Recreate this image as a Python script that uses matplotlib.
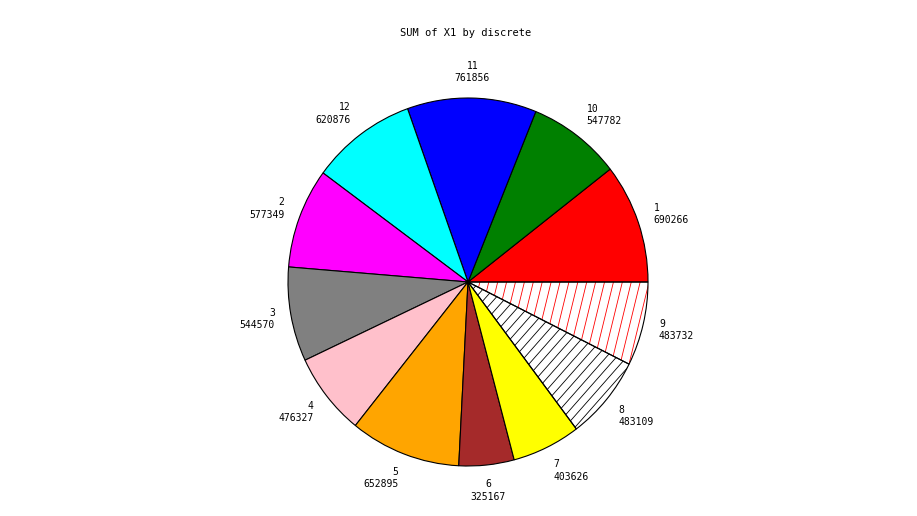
import matplotlib
matplotlib.use("Agg")
import matplotlib.pyplot as plt
import numpy as np

# data (slice order as drawn, counter-clockwise from 3 o'clock)
categories = ['1', '10', '11', '12', '2', '3', '4', '5', '6', '7', '8', '9']
values = [690266, 547782, 761856, 620876, 577349, 544570, 476327,
          652895, 325167, 403626, 483109, 483732]
colors = ['#ff0000', '#008000', '#0000ff', '#00ffff', '#ff00ff', '#808080',
          '#ffc0cb', '#ffa500', '#a52a2a', '#ffff00', 'none', 'none']

font = 'DejaVu Sans Mono'

fig = plt.figure(figsize=(9.17, 5.16), dpi=100)
fig.patch.set_facecolor('white')
ax = fig.add_axes([288 / 917, (516 - 466) / 516, 360 / 917, 368 / 516])
ax.axis('off')

wedges, _ = ax.pie(values, colors=colors, startangle=0, counterclock=True,
                   radius=1, frame=False,
                   wedgeprops=dict(edgecolor='black', linewidth=0.8))
ax.set_xlim(-1, 1)
ax.set_ylim(-1, 1)
ax.set_aspect('auto')

# labels outside each slice
for w, c, v in zip(wedges, categories, values):
    mid = np.radians((w.theta1 + w.theta2) / 2)
    x, y = 1.09 * np.cos(mid), 1.14 * np.sin(mid)
    if abs(np.cos(mid)) < 0.2:
        ha = 'center'
    elif x > 0:
        ha = 'left'
    else:
        ha = 'right'
    ax.text(x, y, f"{c}\n{v}", ha=ha, va='center', fontsize=7, family=font,
            linespacing=1.3, multialignment=ha)

# hatch lines for the last two slices
def hatch(wedge, angle_deg, spacing, color):
    a = np.radians(angle_deg)
    d = np.array([np.cos(a), np.sin(a)])
    n = np.array([-np.sin(a), np.cos(a)])
    for k in np.arange(-1.6, 1.6, spacing):
        p0 = n * k - d * 2
        p1 = n * k + d * 2
        ln, = ax.plot([p0[0], p1[0]], [p0[1], p1[1]], color=color, lw=0.6,
                      zorder=0.5)
        ln.set_clip_path(wedge)

hatch(wedges[10], 48, 0.042, 'black')
hatch(wedges[11], 76, 0.048, 'red')

fig.text(466 / 917, 1 - 33 / 516, 'SUM of X1 by discrete', ha='center', va='center',
         fontsize=7.5, family=font)

fig.savefig('out.png', dpi=100, facecolor='white')
